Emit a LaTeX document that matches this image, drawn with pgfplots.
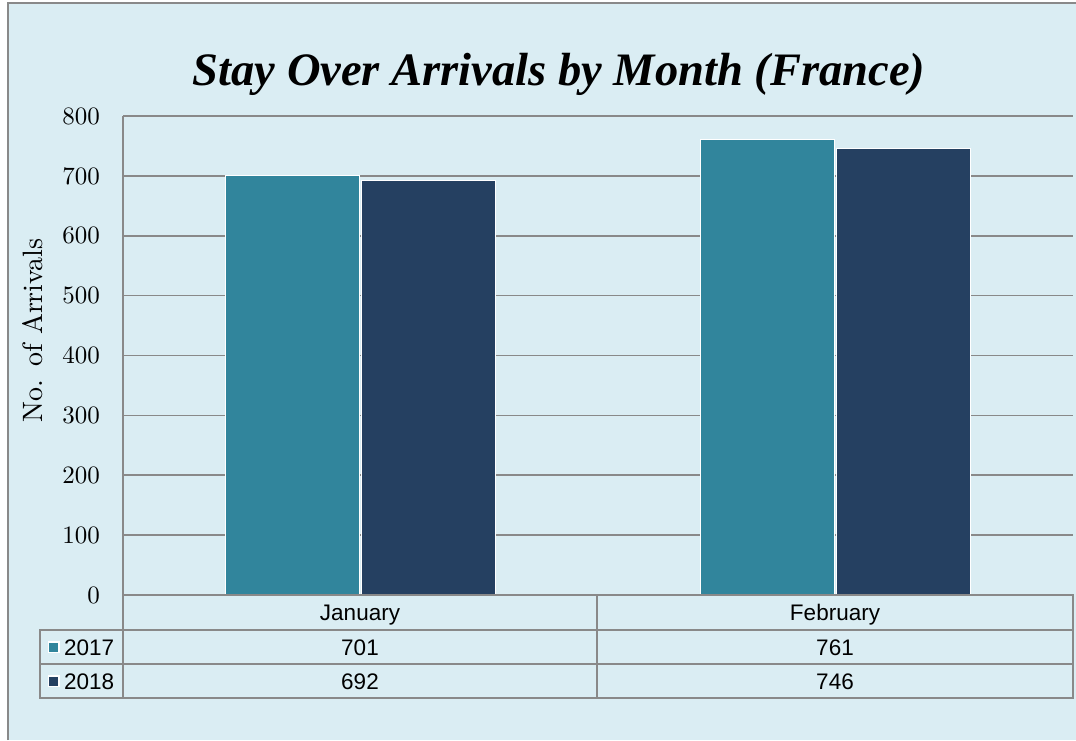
\documentclass[border=0pt]{standalone}
\usepackage{fontspec}
\usepackage{pgfplots}
\usepackage{pgfplotstable}
\pgfplotsset{compat=1.18}
\newfontfamily\titlefont{Liberation Serif}
\newfontfamily\arial{Liberation Sans}
\newfontfamily\lmten{lmroman10-regular.otf}
\definecolor{bg}{HTML}{DAEDF3}
\definecolor{c17}{HTML}{31859C}
\definecolor{c18}{HTML}{254061}
\definecolor{gridc}{HTML}{898989}
\pgfplotstableread{
x y2017 y2018
0 701 692
1 761 746
}\data
\begin{document}
\begin{tikzpicture}
\useasboundingbox (0,0) rectangle (1076pt,-740pt);
\fill[bg] (8pt,-3pt) rectangle (1076pt,-740pt);
\draw[gridc, line width=1.5pt] (8pt,-740pt) -- (8pt,-3pt) -- (1076pt,-3pt);
\node[anchor=base, font=\titlefont\bfseries\itshape\fontsize{46.5}{46.5}\selectfont] at (559pt,-85pt) {Stay Over Arrivals by Month (France)};
\begin{axis}[at={(123pt,-595pt)}, anchor=south west, scale only axis,
  width=950pt, height=479pt,
  xmin=-0.5, xmax=1.5, ymin=0, ymax=800,
  ytick={0,100,...,800}, xtick=\empty,
  axis line style={draw=none},
  major tick length=0pt,
  ymajorgrids, grid style={gridc, line width=1.6pt},
  /pgf/number format/assume math mode=true,
  yticklabel style={font=\lmten\fontsize{25}{25}\selectfont, inner sep=0pt, anchor=east, xshift=-23pt},
  ylabel={No. of Arrivals},
  ylabel style={at={(axis description cs:-0.0947,0.553)}, anchor=center, font=\lmten\fontsize{28}{28}\selectfont},
  clip=false,
  ybar, bar width=134pt,
]
\addplot[fill=c17, draw=white, line width=1.5pt, bar shift=-68pt] table[x=x, y=y2017] {\data};
\addplot[fill=c18, draw=white, line width=1.5pt, bar shift=68pt] table[x=x, y=y2018] {\data};
\end{axis}
% data table
\draw[gridc, line width=1.6pt] (123pt,-116pt) -- (123pt,-698pt);
\draw[gridc, line width=2pt] (123pt,-595pt) -- (1073pt,-595pt) -- (1073pt,-698pt) -- (40pt,-698pt) -- (40pt,-630pt) -- (1073pt,-630pt);
\draw[gridc, line width=2pt] (40pt,-664pt) -- (1073pt,-664pt);
\draw[gridc, line width=2pt] (597pt,-595pt) -- (597pt,-698pt);
\begin{scope}[every node/.style={font=\arial\fontsize{22.5}{22.5}\selectfont, anchor=base}]
\node at (360pt,-620pt) {January};
\node at (835pt,-620pt) {February};
\pgfplotstablegetelem{0}{y2017}\of\data \node at (360pt,-655pt) {\pgfplotsretval};
\pgfplotstablegetelem{1}{y2017}\of\data \node at (835pt,-655pt) {\pgfplotsretval};
\pgfplotstablegetelem{0}{y2018}\of\data \node at (360pt,-689pt) {\pgfplotsretval};
\pgfplotstablegetelem{1}{y2018}\of\data \node at (835pt,-689pt) {\pgfplotsretval};
\node[anchor=base west, inner sep=0pt] at (64pt,-655pt) {2017};
\node[anchor=base west, inner sep=0pt] at (64pt,-689pt) {2018};
\end{scope}
\filldraw[fill=c17, draw=white, line width=1.2pt] (48.5pt,-642pt) rectangle (59pt,-652.5pt);
\filldraw[fill=c18, draw=white, line width=1.2pt] (48.5pt,-676pt) rectangle (59pt,-686.5pt);
\end{tikzpicture}
\end{document}
